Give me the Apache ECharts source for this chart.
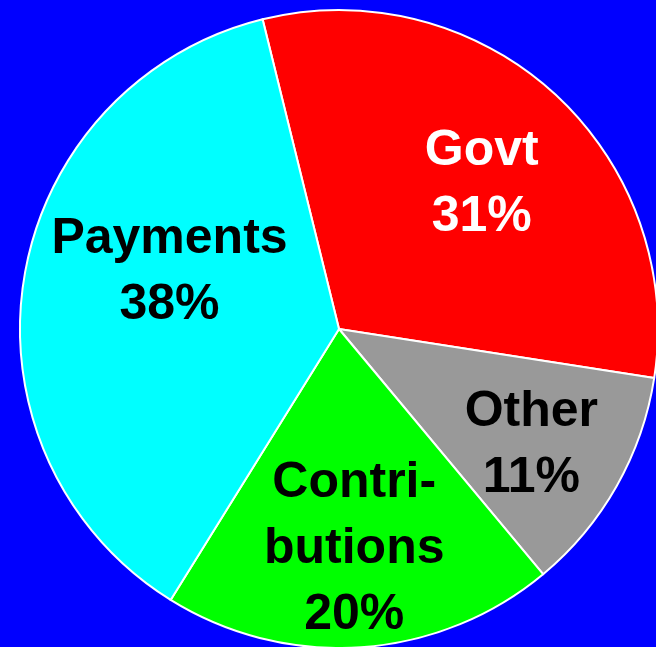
<!DOCTYPE html>
<html>
<head>
<meta charset="utf-8">
<script src="https://cdn.jsdelivr.net/npm/echarts@6/dist/echarts.min.js"></script>
<style>
html,body{margin:0;padding:0;background:#0000ff;}
#chart{width:656px;height:647px;}
</style>
</head>
<body>
<div id="chart"></div>
<script>
// Data (clockwise from top)
const categories = ['Govt', 'Other', 'Contri-\nbutions', 'Payments'];
const sliceValues = [31.3, 11.5, 19.9, 37.3];
const percentLabels = ['31%', '11%', '20%', '38%'];

const sliceColors = ['#ff0000', '#999999', '#00ff00', '#00ffff'];
const textColors = ['#ffffff', '#000000', '#000000', '#000000'];
const labelShift = [[33, -25], [51, 36], [4, 58], [-9, -31]];

const chart = echarts.init(document.getElementById('chart'), null, {renderer: 'canvas'});
const data = categories.map((name, i) => ({
  name: name,
  value: sliceValues[i],
  itemStyle: {color: sliceColors[i]},
  label: {color: textColors[i], formatter: name + '\n' + percentLabels[i]}
}));

chart.setOption({
  backgroundColor: '#0000ff',
  animation: false,
  series: [{
    type: 'pie',
    center: [339, 329],
    radius: 319,
    startAngle: 103.86,
    clockwise: true,
    avoidLabelOverlap: false,
    data: data,
    itemStyle: {borderColor: '#ffffff', borderWidth: 2},
    label: {
      show: true,
      position: 'inside',
      rotate: 0,
      fontFamily: 'Liberation Sans, Arial, Helvetica, sans-serif',
      fontWeight: 'bold',
      fontSize: 50,
      lineHeight: 66,
      align: 'center'
    },
    labelLine: {show: false},
    labelLayout: function (p) {
      const s = labelShift[p.dataIndex];
      return {dx: s[0], dy: s[1]};
    },
    emphasis: {disabled: true}
  }]
});
</script>
</body>
</html>
